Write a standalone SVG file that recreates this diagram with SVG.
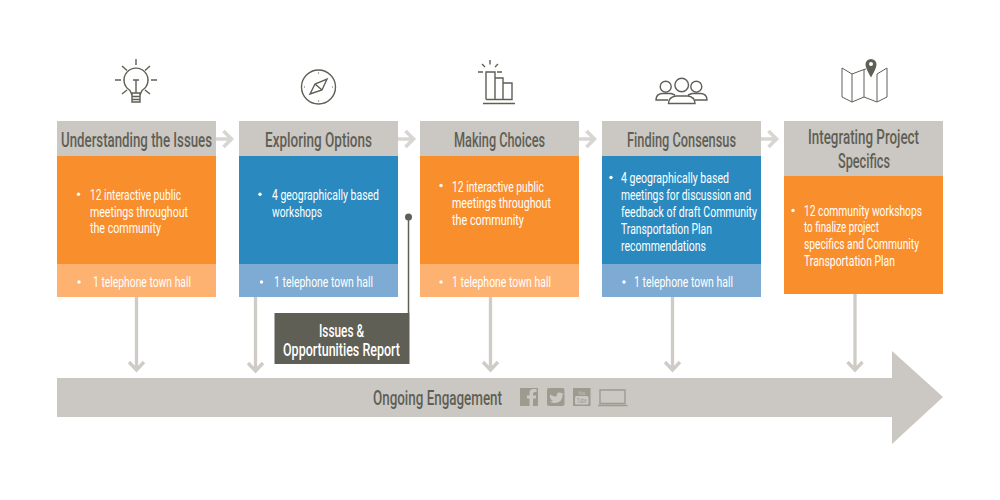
<svg xmlns="http://www.w3.org/2000/svg" width="1000" height="500" viewBox="0 0 1000 500">
<defs>
<style>
text{font-family:"Roboto","Liberation Sans",sans-serif;}
.h{font-size:21px;fill:#5f5f56;font-weight:500;}
.b{font-size:15.500px;fill:#fff;font-weight:400;}
.d{fill:#fff;}
.o{fill:#f98e2d;}.ol{fill:#fdb271;}
.u{fill:#2a8abf;}.ul{fill:#7dabd3;}
.g{fill:#cbc8c3;}
.ar{fill:none;stroke:#d8d6d2;stroke-width:3.600;}
.ad{fill:none;stroke:#cfccc7;stroke-width:3.300;}
.i{fill:none;stroke:#5f5f56;stroke-width:1.400;}
.s{fill:#9d9a90;}
</style>
</defs>
<g id="connectors">
<path class="ar" d="M216 139H229M223.500 131L231.500 139L223.500 147"/>
<path class="ar" d="M398 139H411M405.500 131L413.500 139L405.500 147"/>
<path class="ar" d="M579 139H592M586.500 131L594.500 139L586.500 147"/>
<path class="ar" d="M761 139H774M768.500 131L776.500 139L768.500 147"/>
<path class="ad" d="M136.500 297V369M129 362L136.500 370L144 362"/>
<path class="ad" d="M255.500 297V370M248 363L255.500 371L263 363"/>
<path class="ad" d="M490.500 297V369M483 362L490.500 370L498 362"/>
<path class="ad" d="M672.500 297V369M665 362L672.500 370L680 362"/>
<path class="ad" d="M855 294V369M847.500 362L855 370L862.500 362"/>
<path d="M408.500 217V313" fill="none" stroke="#5f5f56" stroke-width="1.500"/>
<circle cx="408.500" cy="217" r="3.500" fill="#5f5f56"/>
</g>
<g id="ongoing">
<path class="g" d="M57 378H892V351L943 397L892 444V417H57Z"/>
<text x="373" y="404.500" font-size="20" font-weight="500" fill="#5f5f56" textLength="129" lengthAdjust="spacingAndGlyphs">Ongoing Engagement</text>
<rect class="s" x="520" y="388" width="18" height="18"/>
<path d="M533 406V398.500H536V395.500H533V393.500Q533 392 535 392H536.500V389H533.500Q529.500 389 529.500 393V395.500H527V398.500H529.500V406Z" fill="#cbc8c3"/>
<rect class="s" x="547" y="388" width="17.500" height="18" rx="2"/>
<path d="M550 394.500Q554 397 556.500 396.500Q556.500 392.500 559.500 392.500Q561 392.500 562 393.500L563.500 393L562.500 395Q562.500 402.500 555 403Q552 403 550 401.500Q552 401.500 553 400.500Q551 400 550.500 398.500Q549.500 397 550 394.500Z" fill="#cbc8c3"/>
<rect class="s" x="573" y="388" width="17.500" height="18"/>
<rect x="575" y="396" width="13.500" height="8.500" rx="1.500" fill="#cbc8c3"/>
<text x="581.700" y="394.500" font-size="6" fill="#cbc8c3" text-anchor="middle" textLength="7" lengthAdjust="spacingAndGlyphs">You</text>
<text x="581.700" y="403" font-size="7" fill="#9d9a90" text-anchor="middle" textLength="10" lengthAdjust="spacingAndGlyphs">Tube</text>
<path d="M600 390H625V403.500H600ZM598 405.500H627.500" fill="none" stroke="#9d9a90" stroke-width="1.400"/>
</g>
<g id="node-1">
<rect class="g" x="57" y="121" width="159" height="35"/>
<rect class="o" x="57" y="156" width="159" height="108"/>
<rect class="ol" x="57" y="264" width="159" height="33"/>
<text class="h" transform="translate(61 146.700) scale(.67 1)" textLength="225.400" lengthAdjust="spacingAndGlyphs">Understanding the Issues</text>
<circle class="d" cx="78.500" cy="194.300" r="1.700"/>
<text class="b" x="90" y="200" textLength="91" lengthAdjust="spacingAndGlyphs">12 interactive public</text>
<text class="b" x="90" y="216.700" textLength="98" lengthAdjust="spacingAndGlyphs">meetings throughout</text>
<text class="b" x="90" y="233.400" textLength="71" lengthAdjust="spacingAndGlyphs">the community</text>
<circle class="d" cx="79" cy="282" r="1.700"/>
<text class="b" x="93" y="287.300" textLength="98" lengthAdjust="spacingAndGlyphs">1 telephone town hall</text>
<g class="i">
<path d="M132 95L130 90.500A12 12 0 1 1 142 90.500L140 95"/>
<path d="M132 93H140V102H132ZM132 96.500H140M132 99.500H140M136 80V93M133 80H139M136 59V65M115 80H121M151 80H157M122 66L127 70.500M150 66L145 70.500M122 94L127 90M150 94L145 90"/>
</g>
</g>
<g id="node-2">
<rect class="g" x="239" y="121" width="159" height="35"/>
<rect class="u" x="239" y="156" width="159" height="108"/>
<rect class="ul" x="239" y="264" width="159" height="33"/>
<text class="h" x="265" y="146.700" textLength="107" lengthAdjust="spacingAndGlyphs">Exploring Options</text>
<circle class="d" cx="260" cy="194.300" r="1.700"/>
<text class="b" x="272" y="200" textLength="107" lengthAdjust="spacingAndGlyphs">4 geographically based</text>
<text class="b" x="272" y="216.700" textLength="50" lengthAdjust="spacingAndGlyphs">workshops</text>
<circle class="d" cx="261.500" cy="282" r="1.700"/>
<text class="b" x="274" y="287.300" textLength="99" lengthAdjust="spacingAndGlyphs">1 telephone town hall</text>
<g class="i">
<circle cx="318.500" cy="87" r="17"/>
<path d="M310 94L315 84L327 79L322 90ZM315 84L322 90"/>
<path d="M318.500 72.500V73.500M318.500 100.500V101.500M304 87H305M332 87H333" stroke-width="1.200"/>
</g>
</g>
<g id="report">
<rect x="274.500" y="313" width="135" height="51" fill="#5f5f56"/>
<text x="341.500" y="336.700" font-size="17.500" font-weight="500" fill="#fff" text-anchor="middle" textLength="45" lengthAdjust="spacingAndGlyphs">Issues &amp;</text>
<text x="341.500" y="356" font-size="17.500" font-weight="500" fill="#fff" text-anchor="middle" textLength="117" lengthAdjust="spacingAndGlyphs">Opportunities Report</text>
</g>
<g id="node-3">
<rect class="g" x="420" y="121" width="159" height="35"/>
<rect class="o" x="420" y="156" width="159" height="108"/>
<rect class="ol" x="420" y="264" width="159" height="33"/>
<text class="h" x="454" y="146.700" textLength="91" lengthAdjust="spacingAndGlyphs">Making Choices</text>
<circle class="d" cx="441" cy="185.500" r="1.700"/>
<text class="b" x="452" y="191.500" textLength="92" lengthAdjust="spacingAndGlyphs">12 interactive public</text>
<text class="b" x="452" y="208.200" textLength="99" lengthAdjust="spacingAndGlyphs">meetings throughout</text>
<text class="b" x="452" y="225" textLength="72" lengthAdjust="spacingAndGlyphs">the community</text>
<circle class="d" cx="441" cy="282" r="1.700"/>
<text class="b" x="452" y="287.300" textLength="99" lengthAdjust="spacingAndGlyphs">1 telephone town hall</text>
<g class="i">
<path d="M486 99.500V72H495V99.500M495 78H503V99.500M503 83H512V99.500H486M483 103.500H515"/>
<path d="M478 72H483M490 60V64.500M482 64L485 67M498 64L495 67M497 72H502"/>
</g>
</g>
<g id="node-4">
<rect class="g" x="602" y="121" width="159" height="35"/>
<rect class="u" x="602" y="156" width="159" height="108"/>
<rect class="ul" x="602" y="264" width="159" height="33"/>
<text class="h" x="627" y="146.700" textLength="109" lengthAdjust="spacingAndGlyphs">Finding Consensus</text>
<circle class="d" cx="611" cy="177.500" r="1.700"/>
<text class="b" x="621" y="182.700" textLength="108" lengthAdjust="spacingAndGlyphs">4 geographically based</text>
<text class="b" x="621" y="199.600" textLength="130" lengthAdjust="spacingAndGlyphs">meetings for discussion and</text>
<text class="b" x="621" y="216.700" textLength="136" lengthAdjust="spacingAndGlyphs">feedback of draft Community</text>
<text class="b" x="621" y="233.600" textLength="91" lengthAdjust="spacingAndGlyphs">Transportation Plan</text>
<text class="b" x="621" y="250.700" textLength="85" lengthAdjust="spacingAndGlyphs">recommendations</text>
<circle class="d" cx="624" cy="282" r="1.700"/>
<text class="b" x="634" y="287.300" textLength="99" lengthAdjust="spacingAndGlyphs">1 telephone town hall</text>
<g class="i" stroke-width="1.200">
<circle cx="665.700" cy="86.700" r="5.500"/><circle cx="681.700" cy="85" r="6.800"/><circle cx="696.300" cy="86.700" r="5.500"/>
<path d="M668 100H656Q656 94 662 93.500H671L675 95M695 100H707Q707 94 701 93.500H692L688 95M668.500 103.500Q668.500 97 676 96H688Q695 97 695 103.500Z"/>
</g>
</g>
<g id="node-5">
<rect class="g" x="784" y="121" width="159" height="55"/>
<rect class="o" x="784" y="176" width="159" height="118"/>
<text class="h" x="808" y="144.300" textLength="111" lengthAdjust="spacingAndGlyphs">Integrating Project</text>
<text class="h" x="838" y="168.300" textLength="52" lengthAdjust="spacingAndGlyphs">Specifics</text>
<circle class="d" cx="793" cy="210.500" r="1.700"/>
<text class="b" x="804" y="215.700" textLength="118" lengthAdjust="spacingAndGlyphs">12 community workshops</text>
<text class="b" x="804" y="232.300" textLength="75" lengthAdjust="spacingAndGlyphs">to finalize project</text>
<text class="b" x="804" y="249.300" textLength="115" lengthAdjust="spacingAndGlyphs">specifics and Community</text>
<text class="b" x="804" y="266.300" textLength="91" lengthAdjust="spacingAndGlyphs">Transportation Plan</text>
<path d="M866 69L864 69.500L852 74L842 68V97L852 102L864 97L877 102L887 97V68L877 74M852 74V102M864 69.500V97M877 74V102" fill="none" stroke="#5f5f56" stroke-width="1"/>
<path d="M871 77.500Q865.500 68 865.500 64.500A5.500 5.500 0 0 1 876.500 64.500Q876.500 68 871 77.500Z" fill="#5f5f56"/>
<circle cx="871" cy="64" r="2" fill="#fff"/>
</g>
</svg>
